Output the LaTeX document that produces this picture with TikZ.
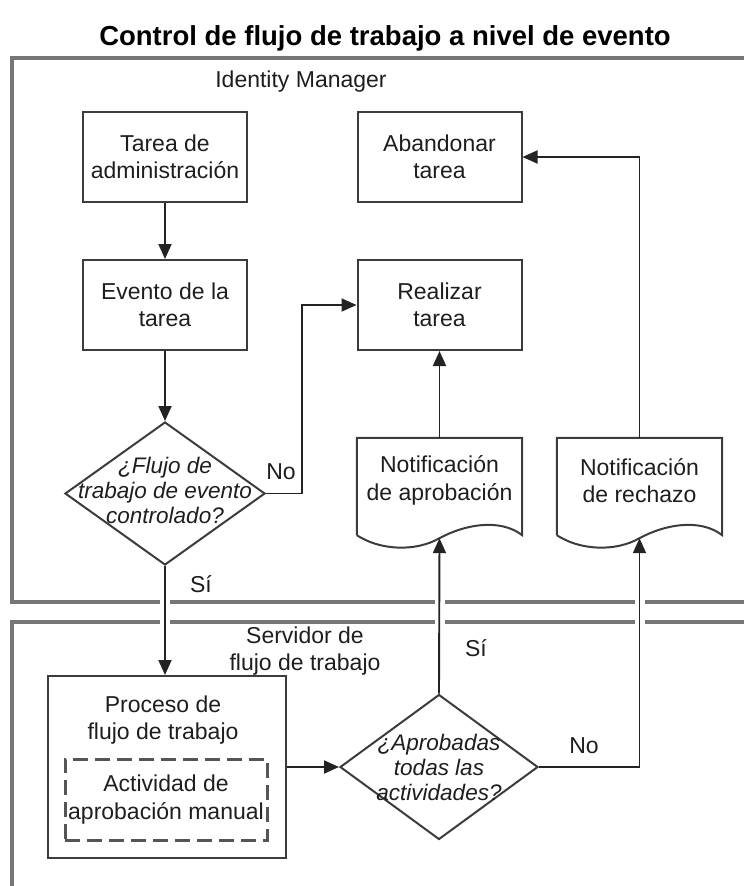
\documentclass[tikz,border=0pt]{standalone}
\usepackage{fontspec}
\setmainfont{Liberation Sans}
\usetikzlibrary{arrows.meta,shapes.geometric,calc}

\definecolor{regionline}{RGB}{118,118,118}
\definecolor{boxline}{RGB}{60,60,60}
\definecolor{dashline}{RGB}{85,85,85}
\definecolor{flowline}{RGB}{35,35,35}
\definecolor{inktext}{RGB}{30,30,30}

\tikzset{
  txt/.style={font=\fontsize{23}{27.5}\selectfont, text=inktext, align=center, inner sep=0pt},
  stepbox/.style={txt, draw=boxline, line width=2pt, minimum width=164pt, minimum height=90pt},
  decision/.style={draw=boxline, line width=2pt, diamond, inner sep=0pt},
  decisiontext/.style={font=\fontsize{22.5}{25}\selectfont\itshape, text=inktext, align=center, inner sep=0pt},
  docbox/.style={draw=none, minimum width=165pt, minimum height=97pt, inner sep=0pt},
  docoutline/.style={draw=boxline, line width=2pt, line join=miter},
  region/.style={draw=regionline, line width=3.5pt},
  regionlabel/.style={font=\fontsize{23}{26.5}\selectfont, text=inktext, align=center, inner sep=0pt},
  flow/.style={draw=flowline, line width=1.9pt, -{Triangle[length=15pt,width=13pt]}},
  gap/.style={draw=white, line width=10pt},
  edgelabel/.style={font=\fontsize{23}{26}\selectfont, text=inktext, inner sep=0pt}
}

\begin{document}
\begin{tikzpicture}[x=1pt, y=-1pt]
  \useasboundingbox (0,0) rectangle (744,886);

  % title
  \node[font=\bfseries\fontsize{27.5}{30}\selectfont, inner sep=0pt] (title) at (385,38) {Control de flujo de trabajo a nivel de evento};

  % the two swimlanes
  \draw[region] (760,58) -- (12,58) -- (12,602) -- (760,602);
  \draw[region] (760,622) -- (12,622) -- (12,900);
  \coordinate (gapTop) at (0,595);
  \coordinate (gapBot) at (0,629);

  \node[regionlabel] (lane1) at (301,82) {Identity Manager};
  \node[regionlabel] (lane2) at (305,651) {Servidor de\\flujo de trabajo};

  % Identity Manager lane
  \node[stepbox] (admin) at (165,157) {Tarea de\\administración};
  \node[stepbox] (drop) at (439.5,157) {Abandonar\\tarea};
  \node[stepbox] (event) at (165,305) {Evento de la\\tarea};
  \node[stepbox] (done) at (439.5,305) {Realizar\\tarea};

  \node[decision, minimum width=200pt, minimum height=143pt] (d1) at (165,493.5) {};
  \node[decisiontext] at ([yshift=3pt]d1.center) {¿Flujo de\\trabajo de evento\\controlado?};

  % document shapes
  \node[docbox] (doc1) at (439.5,486.5) {};
  \node[docbox] (doc2) at (639.5,486.5) {};
  \foreach \d in {doc1,doc2}{
    \draw[docoutline] (\d.south west) -- (\d.north west) -- (\d.north east) -- (\d.south east)
      .. controls ($(\d.south east)+(-22,-17)$) and ($(\d.south east)+(-57,-11)$) .. ($(\d.south)+(0,3)$)
      .. controls ($(\d.south west)+(58,17)$) and ($(\d.south west)+(23,15)$) .. (\d.south west);
    \coordinate (\d b) at ($(\d.south)+(0,3)$);
  }
  \node[txt] at ([yshift=6pt]doc1.center) {Notificación\\de aprobación};
  \node[txt] at ([yshift=6pt]doc2.center) {Notificación\\de rechazo};

  % workflow server lane
  \node[draw=boxline, line width=2pt, minimum width=238pt, minimum height=182pt, inner sep=0pt] (proc) at (167,767) {};
  \node[txt] at (163,720) {Proceso de\\flujo de trabajo};
  \node[txt, draw=dashline, line width=3pt, dash pattern=on 15pt off 7pt, minimum width=202pt, minimum height=81pt] (manual) at (166,799.5) {Actividad de\\aprobación manual};

  \node[decision, minimum width=198pt, minimum height=145pt] (d2) at (439,767) {};
  \node[decisiontext] at (d2.center) {¿Aprobadas\\todas las\\actividades?};

  % gaps where connectors cross the lane borders
  \draw[gap] (d1.south |- gapTop) -- (d1.south |- gapBot);
  \draw[gap] (doc1b |- gapTop) -- (doc1b |- gapBot);
  \draw[gap] (doc2b |- gapTop) -- (doc2b |- gapBot);

  % connectors
  \draw[flow] (admin) -- (event);
  \draw[flow] (event) -- (d1.north);
  \coordinate (noBend) at (302,0);
  \draw[flow] (d1.east) -- (d1.east -| noBend) -- (noBend |- done.west) -- (done.west);
  \draw[flow] (doc1.north) -- (done.south);
  \draw[flow] (doc2.north) -- (doc2.north |- drop.east) -- (drop.east);
  \draw[flow] (d1.south) -- (d1.south |- proc.north);
  \draw[flow] (proc.east |- d2.west) -- (d2.west);
  \draw[flow] (d2.north) -- (doc1b);
  \draw[flow] (d2.east) -- (d2.east -| doc2b) -- (doc2b);

  % branch labels
  \node[edgelabel] (l1) at (281,472) {No};
  \node[edgelabel] (l2) at (201,584) {Sí};
  \node[edgelabel] (l3) at (476,648) {Sí};
  \node[edgelabel] (l4) at (584,746) {No};
\end{tikzpicture}
\end{document}
